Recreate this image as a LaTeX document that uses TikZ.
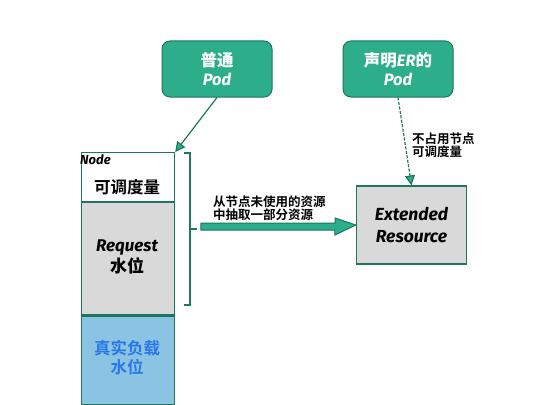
\documentclass[tikz,border=0pt]{standalone}
\usepackage{fontspec}
\setmainfont{Fira Sans}
\newfontfamily\cjk{Noto Sans CJK SC}[BoldFont={* Bold}]
\usetikzlibrary{arrows.meta}
\definecolor{teal1}{RGB}{43,174,137}
\definecolor{teal2}{RGB}{30,118,96}
\definecolor{grayf}{RGB}{217,217,217}
\definecolor{bluef}{RGB}{139,196,227}
\definecolor{bluet}{RGB}{40,120,235}
\tikzset{
  pod/.style={draw=teal2, line width=1pt, fill=teal1, rounded corners=8pt, minimum width=110pt, minimum height=56pt, align=center, text=white, font=\bfseries\itshape\fontsize{16.5}{19}\selectfont},
  seg/.style={draw=teal2, line width=1.2pt, minimum width=93pt, align=center, inner sep=0pt, font=\fontsize{15}{18}\selectfont},
  lbl/.style={align=left, font=\cjk\bfseries\fontsize{12.5}{13}\selectfont, inner sep=0pt},
}
\begin{document}
\begin{tikzpicture}[x=1pt,y=-1pt]
\useasboundingbox (0,0) rectangle (535,404);
\node[pod] (p1) at (217,69) {{\cjk 普通}\\Pod};
\node[pod] (p2) at (398,69) {{\cjk 声明}ER{\cjk 的}\\Pod};
% node column
\node[seg, fill=white, minimum height=49pt, anchor=north west] (free) at (81,152) {};
\node[seg, fill=grayf, minimum height=112pt, anchor=north] (req) at (free.south) {};
\node[seg, fill=bluef, minimum height=89pt, anchor=north] (real) at (req.south) {};
\node[font=\bfseries\itshape\fontsize{13}{14}\selectfont, inner sep=0pt, anchor=west] (nodelbl) at (80,160) {Node};
\node[font=\cjk\bfseries\fontsize{16.5}{17}\selectfont, inner sep=0pt] (freelbl) at (127,187) {可调度量};
\node[align=center, font=\bfseries\itshape\fontsize{17}{21}\selectfont, inner sep=0pt] (reqlbl) at (127,257) {Request\\{\cjk\bfseries 水位}};
\node[align=center, text=bluet, font=\cjk\bfseries\fontsize{16.5}{19}\selectfont, inner sep=0pt] (reallbl) at (127,358) {真实负载\\水位};
% extended resource
\node[draw=teal2, line width=1.2pt, fill=grayf, minimum width=110pt, minimum height=78pt, align=center, font=\bfseries\itshape\fontsize{17.5}{22}\selectfont] (er) at (411.5,225) {Extended\\Resource};
% arrows
\draw[teal2, line width=1.2pt, -{Triangle[length=10pt,width=10pt,fill=teal1]}] (p1.south) -- (free.north east);
\draw[teal2, line width=1.2pt, dash pattern=on 3pt off 1.5pt, -{Triangle[length=10pt,width=10pt,fill=teal1]}] (p2.south) -- (er.north);
\node[lbl, anchor=west] (erlbl) at (412,145) {不占用节点\\可调度量};
% bracket
\coordinate (bt) at (184,153);
\coordinate (bb) at (184,305);
\draw[teal2, line width=1.2pt] (bt) -- ++(6,0) |- (bb);
\draw[teal2, line width=1.2pt] (190,229) -- (197,229);
% block arrow
\coordinate (as) at (201,228);
\filldraw[fill=teal1, draw=teal2, line width=1pt] (as) ++(0,-5) -- ++(134,0) -- ++(0,-5) -- (er.west) -- ++(-21,10) -- ++(0,-5) -- ++(-134,0) -- cycle;
\node[lbl, anchor=west] (arrlbl) at (213,208) {从节点未使用的资源\\中抽取一部分资源};
\end{tikzpicture}
\end{document}
